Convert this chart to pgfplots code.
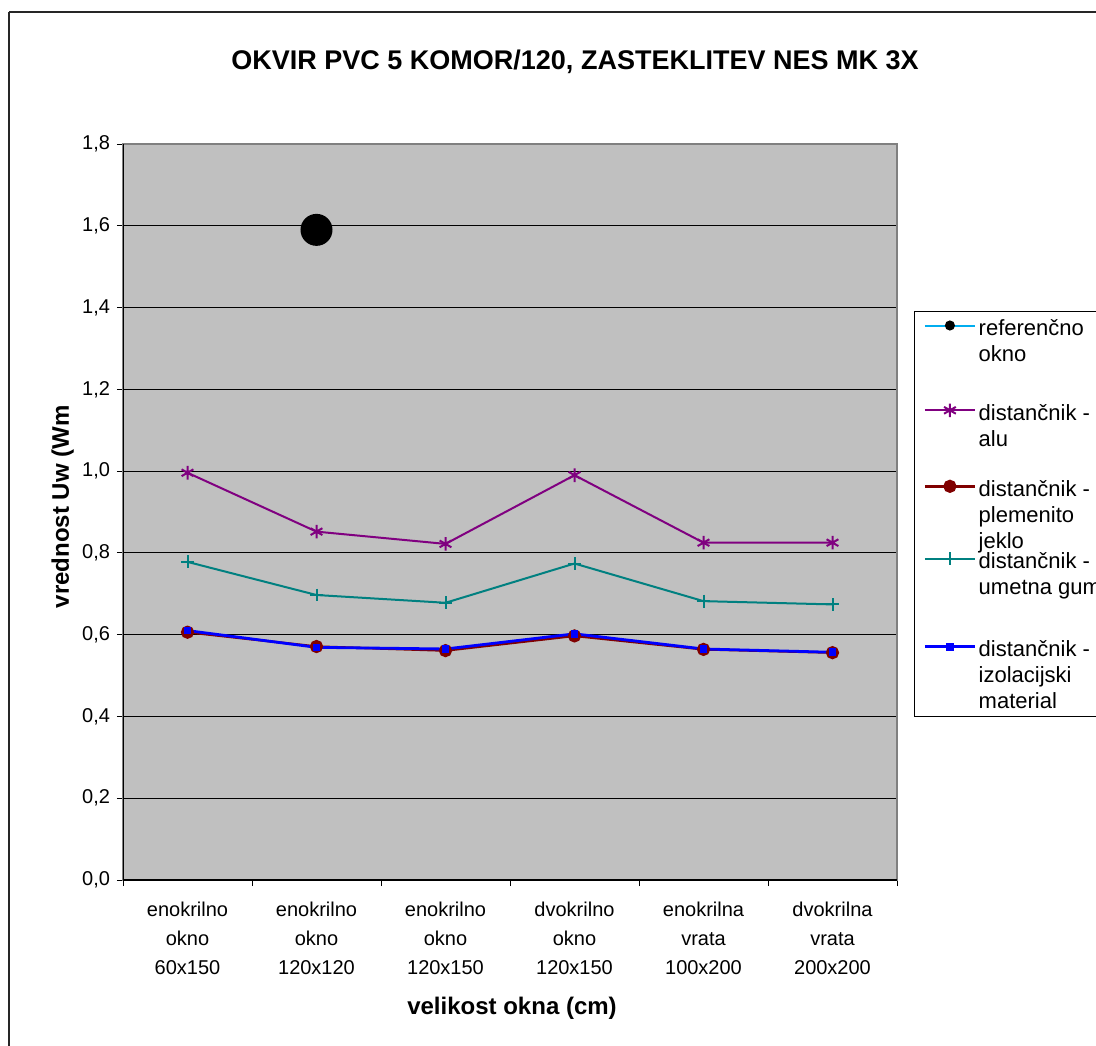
\documentclass[border=0pt]{standalone}
\usepackage{pgfplots}
\pgfplotsset{compat=1.18}
\usepackage{fontspec}
\setmainfont{Liberation Sans}
\definecolor{plotgray}{RGB}{192,192,192}
\definecolor{bordergray}{RGB}{128,128,128}
\definecolor{alupurple}{RGB}{128,0,128}
\definecolor{jeklored}{RGB}{128,0,0}
\definecolor{gumateal}{RGB}{0,128,128}
\begin{document}
\begin{tikzpicture}[x=0.5pt,y=0.5pt]
\begin{axis}[
  at={(61.5pt,82.5pt)}, anchor=south west,
  scale only axis, width=387pt, height=368pt,
  xmin=-0.5, xmax=5.5, ymin=0, ymax=1.8,
  axis background/.style={fill=plotgray},
  axis line style={draw=bordergray, line width=1pt},
  xtick={0,...,5},
  xticklabels={{enokrilno\\okno\\60x150},{enokrilno\\okno\\120x120},{enokrilno\\okno\\120x150},{dvokrilno\\okno\\120x150},{enokrilna\\vrata\\100x200},{dvokrilna\\vrata\\200x200}},
  xticklabel style={align=center, font=\fontsize{10}{14.5}\selectfont, yshift=-4.5pt},
  minor xtick={-0.5,0.5,...,5.5},
  every major x tick/.append style={draw=none},
  every minor x tick/.append style={draw=black, line width=0.5pt},
  minor tick length=3pt,
  ytick={0,0.2,...,1.8},
  every major y tick/.append style={draw=black, line width=0.5pt},
  major tick length=3pt,
  tick align=outside,
  xtick pos=bottom, ytick pos=left,
  yticklabel style={font=\fontsize{10}{12}\selectfont, /pgf/number format/.cd, fixed, fixed zerofill, precision=1, use comma, assume math mode=true},
  ymajorgrids, grid style={black, line width=0.5pt},
  xlabel={velikost okna (cm)},
  xlabel style={font=\bfseries\fontsize{12}{14}\selectfont, at={(axis description cs:0.5026,-0.1834)}, anchor=base},
  ylabel={vrednost Uw (Wm},
  ylabel style={font=\bfseries\fontsize{12}{14}\selectfont, at={(axis description cs:-0.070,0.507)}, anchor=base, rotate=0},
  legend style={at={(axis description cs:1.0220,0.7731)}, anchor=north west,
    draw=black, line width=0.5pt, fill=white,
    inner xsep=4.5pt, inner ysep=0pt, row sep=0pt, column sep=0pt,
    font=\fontsize{11}{13}\selectfont,
    cells={anchor=base west},
    nodes={inner xsep=1.2pt, inner ysep=0pt}},
  legend image code/.code={\draw[mark repeat=2,mark phase=2,#1] plot coordinates {(0pt,5pt) (12.5pt,5pt) (25pt,5pt)};},
]
\addplot[cyan, line width=1pt, mark=*, mark size=7.5pt, mark options={fill=black, draw=black},
  legend image code/.code={\draw[cyan, line width=1pt] (0pt,5pt) -- (25pt,5pt); \fill[black] (12.5pt,5pt) circle (2pt);}]
  coordinates {(1,1.59)};
\addlegendentry[text height=12pt, text depth=34pt]{\parbox[t]{90pt}{\raggedright referenčno\\okno}}
\addplot[alupurple, line width=1pt, mark=asterisk, mark size=3.4pt, mark options={solid}]
  coordinates {(0,0.996) (1,0.852) (2,0.822) (3,0.990) (4,0.825) (5,0.825)};
\addlegendentry[text height=8pt, text depth=30pt]{\parbox[t]{90pt}{\raggedright distančnik -\\alu}}
\addplot[jeklored, line width=1.2pt, mark=*, mark size=2.7pt, mark options={fill=jeklored, draw=jeklored}]
  coordinates {(0,0.606) (1,0.571) (2,0.561) (3,0.597) (4,0.564) (5,0.556)};
\addlegendentry[text height=8pt, text depth=28pt]{\parbox[t]{90pt}{\raggedright distančnik -\\plemenito\\jeklo}}
\addplot[gumateal, line width=1pt, mark=+, mark size=3.2pt, mark options={solid}]
  coordinates {(0,0.778) (1,0.697) (2,0.678) (3,0.774) (4,0.682) (5,0.674)};
\addlegendentry[text height=8pt, text depth=36pt]{\parbox[t]{90pt}{\raggedright distančnik -\\umetna guma}}
\addplot[blue, line width=1.4pt, mark=square*, mark size=1.2pt, mark options={fill=blue, draw=blue}]
  coordinates {(0,0.610) (1,0.569) (2,0.565) (3,0.602) (4,0.565) (5,0.557)};
\addlegendentry[text height=8pt, text depth=30pt]{\parbox[t]{90pt}{\raggedright distančnik -\\izolacijski\\material}}
\draw[black, line width=0.6pt] (rel axis cs:0,0) -- (rel axis cs:0,1);
\draw[black, line width=0.6pt] (rel axis cs:0,0) -- (rel axis cs:1,0);
\end{axis}
\node[font=\bfseries\fontsize{13.5}{15}\selectfont, anchor=base] at (575,975) {OKVIR PVC 5 KOMOR/120, ZASTEKLITEV NES MK 3X};
\draw[black!85, line width=1pt] (9,1033) -- (1300,1033);
\draw[black!85, line width=1pt] (9,1033) -- (9,-200);
\pgfresetboundingbox
\path[use as bounding box] (0,0) rectangle (1096,1045);
\end{tikzpicture}
\end{document}
